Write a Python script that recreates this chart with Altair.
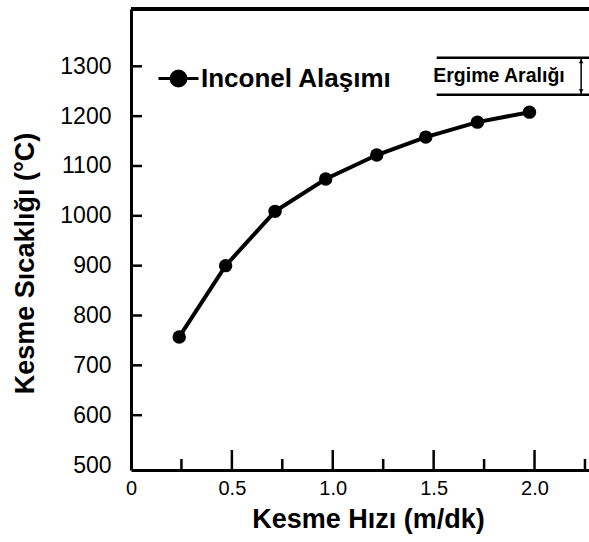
import altair as alt
import pandas as pd

# ---- data ----
speed = [0.239, 0.469, 0.714, 0.965, 1.218, 1.461, 1.717, 1.975]
temp = [757, 900, 1009, 1074, 1122, 1158, 1188, 1208]
series_name = "Inconel Alaşımı"

y_label_vals = [500, 600, 700, 800, 900, 1000, 1100, 1200, 1300]
y_tick_vals = [600, 700, 800, 900, 1000, 1100, 1200, 1300]
x_label_vals = [0, 0.5, 1.0, 1.5, 2.0]
x_major_ticks = [0.5, 1.0, 1.5, 2.0]
x_minor_ticks = [0.25, 0.75, 1.25, 1.75, 2.25]

melt_range = [1243, 1317]
melt_x_start = 1.515
melt_x_end = 2.3
melt_arrow_x = 2.231
melt_label = "Ergime Aralığı"
melt_label_x = 1.498
melt_label_y = 1280
arrow_head_y = [1310, 1250]
arrow_head_shape = ["triangle-up", "triangle-down"]

X_DOMAIN = [0, 2.27]
Y_DOMAIN = [490, 1415]
W, H = 458, 461
FONT = "Liberation Sans"

df = pd.DataFrame({"speed": speed, "temp": temp, "series": [series_name] * len(speed)})

xs = alt.Scale(domain=X_DOMAIN, nice=False, zero=False)
ys = alt.Scale(domain=Y_DOMAIN, nice=False, zero=False)

X = alt.X(
    "speed:Q", scale=xs,
    axis=alt.Axis(
        values=x_label_vals, ticks=False, tickSize=0, grid=False,
        domainColor="black", domainWidth=3,
        labelFont=FONT, labelFontSize=20, labelColor="black", labelPadding=8,
        labelFlush=False,
        labelExpr="datum.value == 0 ? '0' : format(datum.value, '.1f')",
        title="Kesme Hızı (m/dk)", titleFont=FONT, titleFontSize=27,
        titleFontWeight="bold", titleColor="black",
        titleX=237, titleY=57, titleBaseline="alphabetic", titleAlign="center",
    ),
)
Y = alt.Y(
    "temp:Q", scale=ys,
    axis=alt.Axis(
        values=y_label_vals, ticks=False, tickSize=0, grid=False, format="d",
        domainColor="black", domainWidth=3,
        labelFont=FONT, labelFontSize=23, labelColor="black", labelPadding=20,
        title="Kesme Sıcaklığı (°C)", titleFont=FONT, titleFontSize=27,
        titleFontWeight="bold", titleColor="black", titleAngle=270,
        titleX=-98, titleY=254, titleBaseline="alphabetic", titleAlign="center",
    ),
)

line = alt.Chart(df).mark_line(color="black", strokeWidth=4).encode(x=X, y=Y)

legend_symbol = "M-1,0H1M0.375,0A0.375,0.375,0,1,1,-0.375,0A0.375,0.375,0,1,1,0.375,0Z"
pts = alt.Chart(df).mark_point(filled=True, shape="circle", size=180, opacity=1).encode(
    x=X, y=Y,
    color=alt.Color(
        "series:N", scale=alt.Scale(range=["black"]),
        legend=alt.Legend(
            title=None, orient="none", legendX=26, legendY=48, padding=0,
            symbolType=legend_symbol, symbolSize=1600, symbolStrokeWidth=3,
            symbolFillColor="black", symbolStrokeColor="black", symbolOpacity=1,
            labelFont=FONT, labelFontSize=26, labelFontWeight="bold",
            labelColor="black", labelOffset=1, labelLimit=400,
        ),
    ),
)

ytick_df = pd.DataFrame({"temp": y_tick_vals})
yticks = alt.Chart(ytick_df).mark_rule(color="black", strokeWidth=2.5).encode(
    y=Y, x=alt.value(0), x2=alt.value(11)
)
xmaj = alt.Chart(pd.DataFrame({"speed": x_major_ticks})).mark_rule(color="black", strokeWidth=2.5).encode(
    x=X, y=alt.value(H), y2=alt.value(H - 20)
)
xmin = alt.Chart(pd.DataFrame({"speed": x_minor_ticks})).mark_rule(color="black", strokeWidth=2.5).encode(
    x=X, y=alt.value(H), y2=alt.value(H - 11)
)
top_border = alt.Chart(ytick_df).mark_rule(color="black", strokeWidth=3).encode(
    x=alt.value(0), x2=alt.value(W), y=alt.value(0)
)

melt_df = pd.DataFrame({"speed": [melt_x_start] * 2, "speed_end": [melt_x_end] * 2, "temp": melt_range})
melt_lines = alt.Chart(melt_df).mark_rule(color="black", strokeWidth=2.5, clip=True).encode(
    x=X, x2="speed_end:Q", y=Y
)
arrow_df = pd.DataFrame({"speed": [melt_arrow_x], "temp": [melt_range[0]], "temp_end": [melt_range[1]]})
arrow_line = alt.Chart(arrow_df).mark_rule(color="black", strokeWidth=1.5).encode(
    x=X, y=Y, y2="temp_end:Q"
)
heads_df = pd.DataFrame({"speed": [melt_arrow_x] * 2, "temp": arrow_head_y, "shape": arrow_head_shape})
heads = alt.Chart(heads_df).mark_point(filled=True, size=22, opacity=1, color="black").encode(
    x=X, y=Y, shape=alt.Shape("shape:N", scale=None)
)
label_df = pd.DataFrame({"speed": [melt_label_x], "temp": [melt_label_y], "txt": [melt_label]})
melt_text = alt.Chart(label_df).mark_text(
    align="left", baseline="middle", font=FONT, fontSize=19.5, fontWeight="bold", color="black"
).encode(x=X, y=Y, text="txt:N")

chart = alt.layer(
    top_border, yticks, xmaj, xmin, melt_lines, arrow_line, heads, melt_text, line, pts
).properties(
    width=W, height=H,
    autosize=alt.AutoSizeParams(type="none"),
    padding={"left": 131, "top": 9, "right": 0, "bottom": 72},
    background="white",
).configure_view(strokeWidth=0)

chart.save("out.html", embed_options={"renderer": "svg", "actions": False})
